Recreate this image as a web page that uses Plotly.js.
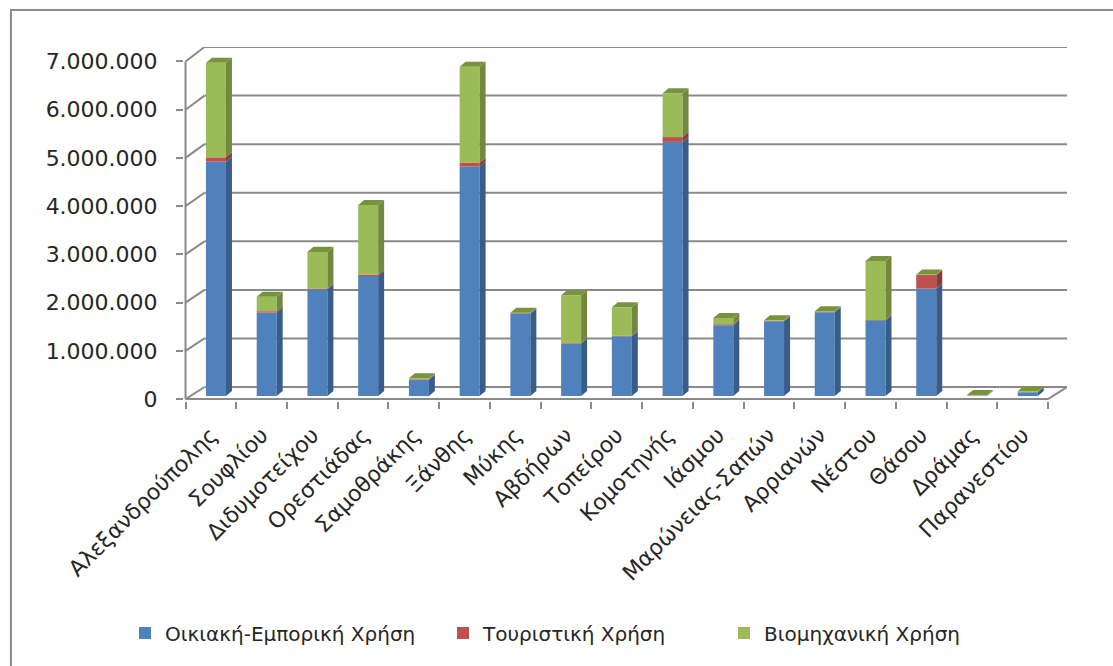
<!DOCTYPE html>
<html>
<head>
<meta charset="utf-8">
<script src="https://cdn.plot.ly/plotly-3.0.1.min.js"></script>
<style>
  html, body { margin: 0; padding: 0; background: #ffffff; }
  #chart { width: 1113px; height: 666px; }
</style>
</head>
<body>
<div id="chart"></div>
<script>
// Municipalities (x categories)
const municipalities = [
  'Αλεξανδρούπολης', 'Σουφλίου', 'Διδυμοτείχου', 'Ορεστιάδας', 'Σαμοθράκης',
  'Ξάνθης', 'Μύκης', 'Αβδήρων', 'Τοπείρου', 'Κομοτηνής', 'Ιάσμου',
  'Μαρώνειας-Σαπών', 'Αρριανών', 'Νέστου', 'Θάσου', 'Δράμας', 'Παρανεστίου'
];

// Stacked series values
const residentialCommercial = [
  4860000, 1730000, 2210000, 2490000, 340000, 4760000, 1710000, 1090000, 1240000,
  5270000, 1470000, 1550000, 1740000, 1570000, 2230000, 10000, 80000
];
const tourism = [
  90000, 30000, 20000, 30000, 10000, 80000, 10000, 10000, 10000,
  100000, 20000, 10000, 10000, 10000, 280000, 0, 0
];
const industrial = [
  1960000, 300000, 760000, 1440000, 20000, 1990000, 10000, 990000, 590000,
  910000, 130000, 10000, 10000, 1220000, 10000, 10000, 20000
];

const seriesNames = ['Οικιακή-Εμπορική Χρήση', 'Τουριστική Χρήση', 'Βιομηχανική Χρήση'];
const yTicks = [0, 1000000, 2000000, 3000000, 4000000, 5000000, 6000000, 7000000];

// Styling for the pseudo-3D columns
const frontColors = ['#4F81BD', '#C0504D', '#9BBB59'];
const sideColors  = ['#385D8A', '#8C3B39', '#71893F'];
const topColors   = ['#4675AE', '#A8433F', '#77943C'];
const gridColor = '#8A8A8A';
const textColor = '#262626';
const fontFamily = 'DejaVu Sans, sans-serif';

const BAR_OFFSET = -0.097;   // bar start relative to category centre
const BAR_WIDTH = 0.394;     // front face width (category units)
const LIFT = 62000;          // front faces sit a little above the floor edge
const SIDE_DX = 0.118;       // depth of the side face (category units)
const SIDE_DY = 104000;      // depth of the side face (value units)
const WALL_DX = 0.374;       // back wall horizontal offset
const wallY = v => 250000 + v * 1.007;  // back wall vertical position of a value

const n = municipalities.length;
const series = [residentialCommercial, tourism, industrial];
const legendIds = ['legend', 'legend2', 'legend3'];
const legendX = [125, 443, 724];   // left edge of each legend box (px)

// Column bases so the three series stack on each other
const bases = [];
let running = municipalities.map(() => LIFT);
series.forEach((vals) => {
  bases.push(running.slice());
  running = running.map((b, i) => b + vals[i]);
});
const stackTop = running;

const traces = series.map((vals, k) => ({
  type: 'bar',
  name: seriesNames[k],
  legend: legendIds[k],
  x: municipalities,
  y: vals,
  base: bases[k],
  offset: BAR_OFFSET,
  width: BAR_WIDTH,
  marker: { color: frontColors[k], line: { width: 0 } },
  hoverinfo: 'skip'
}));

const shapes = [];
const line = (x0, y0, x1, y1) => ({
  type: 'line', xref: 'x', yref: 'y', x0, y0, x1, y1, layer: 'below',
  line: { color: gridColor, width: 2 }
});

// Back wall gridlines and left wall diagonals
yTicks.forEach(v => {
  shapes.push(line(-0.5 + WALL_DX, wallY(v), n - 0.5 + WALL_DX, wallY(v)));
  shapes.push(line(-0.5, v, -0.5 + WALL_DX, wallY(v)));
});
// Front vertical axis, front floor edge, right floor edge
shapes.push(line(-0.5, 0, -0.5, yTicks[yTicks.length - 1]));
shapes.push(line(-0.5, 0, n - 0.5, 0));
shapes.push(line(n - 0.5, 0, n - 0.5 + WALL_DX, wallY(0)));

// Side faces of each segment and the top face of each column
const pathOf = pts => 'M' + pts.map(p => p[0] + ',' + p[1]).join('L') + 'Z';
municipalities.forEach((m, i) => {
  const xl = i + BAR_OFFSET;
  const xr = xl + BAR_WIDTH;
  series.forEach((vals, k) => {
    if (vals[i] <= 0) return;
    const y0 = bases[k][i], y1 = y0 + vals[i];
    shapes.push({
      type: 'path', xref: 'x', yref: 'y', layer: 'above',
      path: pathOf([[xr, y0], [xr + SIDE_DX, y0 + SIDE_DY], [xr + SIDE_DX, y1 + SIDE_DY], [xr, y1]]),
      fillcolor: sideColors[k], line: { width: 0 }
    });
  });
  let topIdx = series.length - 1;
  while (topIdx > 0 && series[topIdx][i] <= 0) topIdx--;
  const yt = stackTop[i];
  shapes.push({
    type: 'path', xref: 'x', yref: 'y', layer: 'above',
    path: pathOf([[xl, yt], [xr, yt], [xr + SIDE_DX, yt + SIDE_DY], [xl + SIDE_DX, yt + SIDE_DY]]),
    fillcolor: topColors[topIdx], line: { width: 0 }
  });
});

// Outer chart frame
shapes.push({
  type: 'rect', xref: 'paper', yref: 'paper',
  x0: -0.196, x1: 1.3, y0: 1.1045, y1: -1.0,
  line: { color: '#8C8C8C', width: 2 }, fillcolor: 'rgba(0,0,0,0)', layer: 'below'
});

const layout = {
  width: 1113,
  height: 666,
  margin: { l: 184, r: 46, t: 47, b: 265 },
  paper_bgcolor: '#ffffff',
  plot_bgcolor: '#ffffff',
  separators: ',.',
  barmode: 'overlay',
  font: { family: fontFamily, size: 20, color: textColor },
  xaxis: {
    type: 'category',
    range: [-0.53, n - 0.5 + WALL_DX],
    tickson: 'boundaries',
    ticks: 'outside', ticklen: 7, tickwidth: 2, tickcolor: gridColor,
    tickangle: -45,
    ticklabelstandoff: 16,
    tickfont: { family: fontFamily, size: 22, color: textColor },
    showgrid: false, zeroline: false, showline: false, fixedrange: true
  },
  yaxis: {
    range: [-40000, 7300000],
    tickvals: yTicks,
    tickformat: ',.0f',
    ticks: 'outside', ticklen: 7, tickwidth: 2, tickcolor: gridColor,
    ticklabelstandoff: 14,
    tickfont: { family: fontFamily, size: 22, color: textColor },
    showgrid: false, zeroline: false, showline: false, fixedrange: true
  },
  showlegend: true,
  shapes: shapes
};

// One legend box per series, each placed on its own
legendIds.forEach((id, k) => {
  layout[id] = {
    orientation: 'h',
    xref: 'container', yref: 'container',
    x: legendX[k] / 1113, xanchor: 'left',
    y: 1 - 633 / 666, yanchor: 'middle',
    font: { family: fontFamily, size: 20, color: textColor },
    bgcolor: 'rgba(0,0,0,0)'
  };
});

Plotly.newPlot('chart', traces, layout, { staticPlot: true, displayModeBar: false });
</script>
</body>
</html>
